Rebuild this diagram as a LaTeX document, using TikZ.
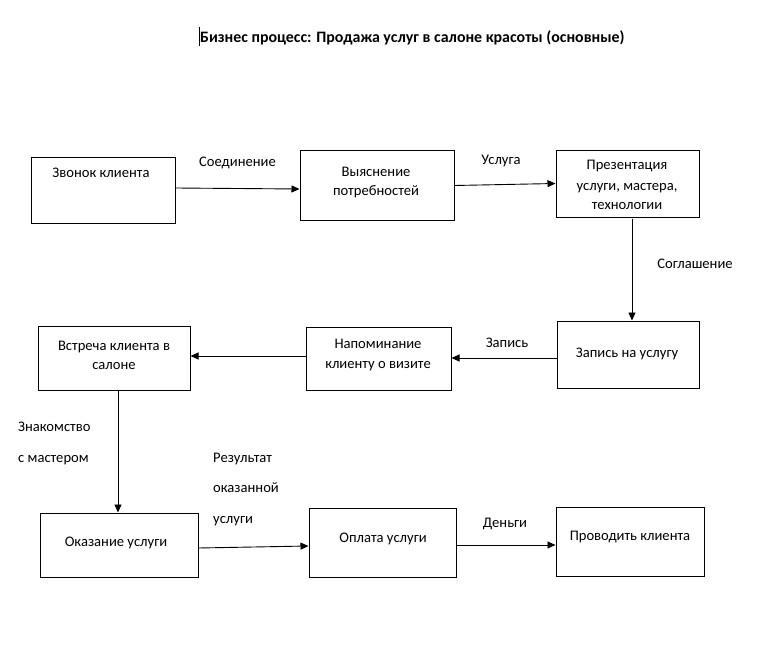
\documentclass[tikz,border=0pt]{standalone}
\usepackage{fontspec}
\setmainfont{Carlito}
\usetikzlibrary{arrows.meta}
\begin{document}
\begin{tikzpicture}[x=1pt,y=-1pt,
  box/.style={draw,line width=1pt,inner sep=0pt,minimum width=#1},
  txt/.style={anchor=base,inner sep=0pt,font=\fontsize{14.6}{17}\selectfont},
  ltxt/.style={anchor=base west,inner sep=0pt,font=\fontsize{14.6}{17}\selectfont},
  arr/.style={line width=0.9pt,-{Triangle[length=8pt,width=7pt]}}]
\useasboundingbox (0,0) rectangle (760,663);
% title
\node[anchor=base west,inner sep=0pt,font=\bfseries\fontsize{15.9}{18}\selectfont] (title) at (200,43) {Бизнес процесс: Продажа услуг в салоне красоты (основные)};
\draw[line width=0.8pt] (199.5,27) -- (199.5,46);
% boxes
\node[box=144pt,minimum height=65pt] (b1) at (103,190.5) {};
\node[box=154pt,minimum height=69pt] (b2) at (377,185.5) {};
\node[box=143pt,minimum height=67pt] (b3) at (627.5,184.5) {};
\node[box=142pt,minimum height=67pt] (b4) at (628,354.5) {};
\node[box=145pt,minimum height=63pt] (b5) at (378.5,358.5) {};
\node[box=152pt,minimum height=64pt] (b6) at (114,358) {};
\node[box=158pt,minimum height=64pt] (b7) at (119,545) {};
\node[box=147pt,minimum height=69pt] (b8) at (382.5,542.5) {};
\node[box=148pt,minimum height=69pt] (b9) at (630,541.5) {};
% box texts
\node[txt] (t1) at (101,178) {Звонок клиента};
\node[txt] (t2a) at (376,177) {Выяснение};
\node[txt] (t2b) at (376,196) {потребностей};
\node[txt] (t3a) at (627,170) {Презентация};
\node[txt] (t3b) at (627,190) {услуги, мастера,};
\node[txt] (t3c) at (627,210) {технологии};
\node[txt] (t4) at (627,357) {Запись на услугу};
\node[txt] (t5a) at (378,348) {Напоминание};
\node[txt] (t5b) at (378,368) {клиенту о визите};
\node[txt] (t6a) at (114,350) {Встреча клиента в};
\node[txt] (t6b) at (114,369) {салоне};
\node[txt] (t7) at (116,546) {Оказание услуги};
\node[txt] (t8) at (383,542) {Оплата услуги};
\node[txt] (t9) at (630,540) {Проводить клиента};
% connector labels
\node[txt] (l1) at (237.5,167) {Соединение};
\node[txt] (l2) at (501,165) {Услуга};
\node[txt] (l3) at (695,268) {Соглашение};
\node[txt] (l4) at (507,347) {Запись};
\node[ltxt] (l6a) at (18,431) {Знакомство};
\node[ltxt] (l6b) at (18,462) {с мастером};
\node[ltxt] (l7a) at (213,462) {Результат};
\node[ltxt] (l7b) at (213,492) {оказанной};
\node[ltxt] (l7c) at (213,523) {услуги};
\node[txt] (l8) at (505,527) {Деньги};
% connectors
\draw[arr] ([yshift=2.5pt]b1.east) -- ([yshift=-3.5pt]b2.west);
\draw[arr] (b2.east) -- ([yshift=1pt]b3.west);
\draw[arr] ([xshift=4.5pt]b3.south) -- ([xshift=4pt]b4.north);
\draw[arr] ([yshift=-3.5pt]b4.west) -- ([yshift=0.5pt]b5.east);
\draw[arr] ([yshift=2.5pt]b5.west) -- ([yshift=2pt]b6.east);
\draw[arr] ([xshift=4pt]b6.south) -- ([xshift=-1pt]b7.north);
\draw[arr] ([yshift=-3pt]b7.east) -- ([yshift=-3.5pt]b8.west);
\draw[arr] ([yshift=-2.5pt]b8.east) -- ([yshift=-3.5pt]b9.west);
\end{tikzpicture}
\end{document}
